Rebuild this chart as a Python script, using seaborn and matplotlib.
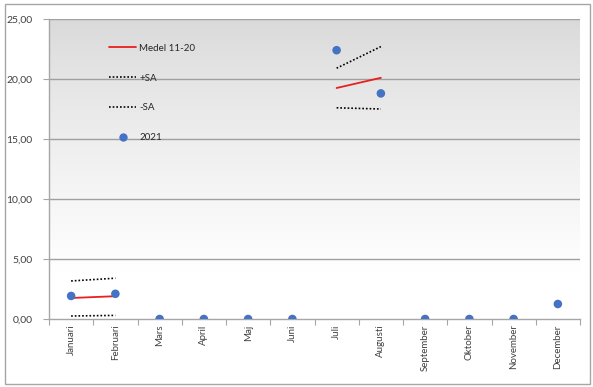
import numpy as np
import pandas as pd
import matplotlib
matplotlib.use("Agg")
import matplotlib.pyplot as plt
from matplotlib.lines import Line2D
from matplotlib.patches import Rectangle
import seaborn as sns

months = ["Januari", "Februari", "Mars", "April", "Maj", "Juni", "Juli",
          "Augusti", "September", "Oktober", "November", "December"]
nan = np.nan
medel = [1.75, 1.9, nan, nan, nan, nan, 19.25, 20.1, nan, nan, nan, nan]
plus_sa = [3.17, 3.4, nan, nan, nan, nan, 20.9, 22.7, nan, nan, nan, nan]
minus_sa = [0.25, 0.3, nan, nan, nan, nan, 17.6, 17.5, nan, nan, nan, nan]
y2021 = [1.92, 2.1, 0, 0, 0, 0, 22.4, 18.8, 0, 0, 0, 1.25]
yticks = [0, 5, 10, 15, 20, 25]

sns.set_theme(style="white")
plt.rcParams["font.family"] = ["Lato", "DejaVu Sans"]

fig = plt.figure(figsize=(5.93, 3.87), dpi=100)
ax = fig.add_axes([49 / 593, 68 / 387, 531 / 593, 300 / 387])

# outer chart frame
fig.patches.append(Rectangle((5 / 593, 3 / 387), 585 / 593, 380 / 387,
                             transform=fig.transFigure, fill=False,
                             edgecolor="#a6a6a6", linewidth=1.0))

# gradient plot background: grey at the top fading to white near the bottom
t = np.linspace(0, 1, 256)
shade = np.clip(t / 0.85, 0, 1) ** 0.8
grad = shade.reshape(-1, 1)
cmap = matplotlib.colors.LinearSegmentedColormap.from_list("bg", ["#d9d9d9", "#ffffff"])
ax.imshow(grad, extent=[-0.5, 11.5, 0, 25], aspect="auto", cmap=cmap,
          origin="upper", zorder=0, vmin=0, vmax=1)

x = np.arange(len(months))
df = pd.DataFrame({"x": x, "medel": medel, "plus": plus_sa,
                   "minus": minus_sa, "y2021": y2021})

# segments (consecutive months with values)
def segments(col):
    vals = df[col].to_numpy()
    segs, cur = [], []
    for i, v in enumerate(vals):
        if np.isnan(v):
            if cur:
                segs.append(cur)
            cur = []
        else:
            cur.append(i)
    if cur:
        segs.append(cur)
    return segs

styles = {
    "medel": dict(color="#e8201f", linestyle="-", linewidth=1.3),
    "plus": dict(color="#000000", linestyle=(0, (1, 1.2)), linewidth=1.2),
    "minus": dict(color="#000000", linestyle=(0, (1, 1.2)), linewidth=1.2),
}
for col, st in styles.items():
    for seg in segments(col):
        sub = df.iloc[seg]
        sns.lineplot(data=sub, x="x", y=col, ax=ax, zorder=3, legend=False, **st)

sns.scatterplot(data=df, x="x", y="y2021", ax=ax, color="#4472c4", s=38,
                edgecolor="none", zorder=4, legend=False)

ax.set_xlim(-0.5, 11.5)
ax.set_ylim(0, 25)
ax.set_yticks(yticks)
ax.set_yticklabels([f"{v:.2f}".replace(".", ",") for v in yticks], fontsize=7.5,
                   color="#404040")
ax.set_xticks(x)
ax.set_xticklabels(months, rotation=90, fontsize=7, color="#404040")
ax.set_xticks(np.arange(-0.5, 12, 1), minor=True)
ax.tick_params(axis="x", which="major", length=0, pad=4)
ax.tick_params(axis="x", which="minor", length=4, color="#a6a6a6", width=0.8,
               bottom=True)
ax.tick_params(axis="y", length=4, color="#a6a6a6", width=0.8, left=True, pad=8)
ax.set_xlabel("")
ax.set_ylabel("")

for y in yticks[1:]:
    ax.axhline(y, color="#a0a0a0", linewidth=1.0, zorder=1)

for s in ["top", "right"]:
    ax.spines[s].set_visible(False)
for s in ["left", "bottom"]:
    ax.spines[s].set_color("#a6a6a6")
    ax.spines[s].set_linewidth(1.0)
    ax.spines[s].set_zorder(2)

handles = [
    Line2D([], [], **styles["medel"]),
    Line2D([], [], **styles["plus"]),
    Line2D([], [], **styles["minus"]),
    Line2D([], [], color="#4472c4", marker="o", linestyle="none", markersize=6,
           markeredgewidth=0),
]
leg = ax.legend(handles, ["Medel 11-20", "+SA", "-SA", "2021"], loc="upper left",
                bbox_to_anchor=(0.113, 0.918), frameon=False, fontsize=7,
                handlelength=2.8, labelspacing=2.15, handletextpad=0.3,
                borderpad=0, borderaxespad=0)
for txt in leg.get_texts():
    txt.set_color("#262626")

fig.savefig("out.png", dpi=100)
